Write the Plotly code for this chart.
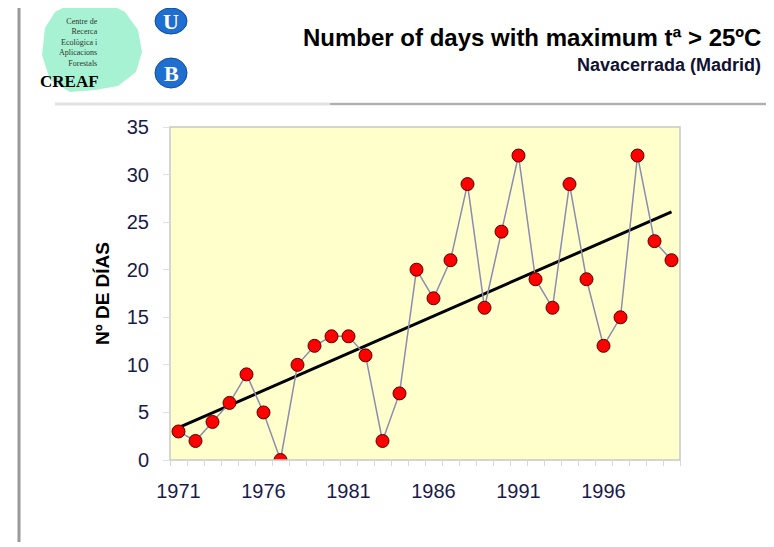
import numpy as np
import plotly.graph_objects as go

years = list(range(1971, 2001))
days = [3, 2, 4, 6, 9, 5, 0, 10, 12, 13, 13, 11, 2, 7, 20,
        17, 21, 29, 16, 24, 32, 19, 16, 29, 19, 12, 15, 32, 23, 21]
tick_years = [1971, 1976, 1981, 1986, 1991, 1996]

# the page body has an 8px margin, so work in page pixels and shift
OFF = 8
W, H = 774 - OFF, 547 - OFF
L, R, T, B = 170, 680, 127, 460   # plot area in page pixels

def px(x):
    return (x - L) / (R - L)

def py(y):
    return (B - y) / (B - T)

idx = np.arange(len(years))
slope, icpt = np.polyfit(idx, days, 1)
trend = slope * idx + icpt

fig = go.Figure()
fig.add_trace(go.Scatter(
    x=years, y=trend, mode="lines",
    line=dict(color="black", width=3), hoverinfo="skip"))
fig.add_trace(go.Scatter(
    x=years, y=days, mode="lines+markers",
    line=dict(color="#8c8cb0", width=1.5),
    marker=dict(color="#ff0000", size=13, line=dict(color="#5a0000", width=1))))

blob = [(70, 4), (105, 2), (125, 12), (138, 30), (142, 52), (136, 72), (118, 86),
        (95, 90), (70, 92), (50, 80), (42, 55), (45, 28), (55, 12)]
blob_path = "M " + " L ".join("{} {}".format(px(x), py(y)) for x, y in blob) + " Z"

shapes = [
    # left page border
    dict(type="line", xref="paper", yref="paper", x0=px(19), x1=px(19), y0=py(8), y1=py(542),
         line=dict(color="#9a9a9a", width=3), layer="below"),
    # header rule
    dict(type="line", xref="paper", yref="paper", x0=px(55), x1=px(766), y0=py(104), y1=py(104),
         line=dict(color="#e2e2e2", width=3), layer="below"),
    dict(type="line", xref="paper", yref="paper", x0=px(330), x1=px(766), y0=py(104), y1=py(104),
         line=dict(color="#b0b0b0", width=2), layer="below"),
    # CREAF green blob
    dict(type="path", xref="paper", yref="paper", path=blob_path,
         fillcolor="#a6f2d2", line=dict(width=0), layer="below"),
    # U and B circles
    dict(type="circle", xref="paper", yref="paper", x0=px(155), x1=px(187), y0=py(8), y1=py(34),
         fillcolor="#1f6fd0", line=dict(color="#0d4aa0", width=1), layer="below"),
    dict(type="circle", xref="paper", yref="paper", x0=px(155), x1=px(187), y0=py(58), y1=py(88),
         fillcolor="#1f6fd0", line=dict(color="#0d4aa0", width=1), layer="below"),
    # plot area border
    dict(type="rect", xref="paper", yref="paper", x0=0, x1=1, y0=0, y1=1,
         line=dict(color="#c8c8c8", width=1.5)),
]

annotations = [
    dict(text="<b>Number of days with maximum tª > 25ºC</b>", xref="paper", yref="paper",
         x=px(763), y=py(38), xanchor="right", yanchor="middle", showarrow=False,
         font=dict(family="Liberation Sans, Arial", size=24, color="black")),
    dict(text="<b>Navacerrada (Madrid)</b>", xref="paper", yref="paper",
         x=px(763), y=py(65), xanchor="right", yanchor="middle", showarrow=False,
         font=dict(family="Liberation Sans, Arial", size=18, color="#111133")),
    dict(text="<b>U</b>", xref="paper", yref="paper", x=px(171), y=py(21),
         xanchor="center", yanchor="middle", showarrow=False,
         font=dict(family="Liberation Serif", size=22, color="white")),
    dict(text="<b>B</b>", xref="paper", yref="paper", x=px(171), y=py(73),
         xanchor="center", yanchor="middle", showarrow=False,
         font=dict(family="Liberation Serif", size=22, color="white")),
    dict(text="Centre de<br>Recerca<br>Ecològica i<br>Aplicacions<br>Forestals", xref="paper", yref="paper",
         x=px(100), y=py(42), xanchor="right", yanchor="middle", align="right", showarrow=False,
         font=dict(family="Liberation Serif", size=8, color="#333333")),
    dict(text="<b>CREAF</b>", xref="paper", yref="paper", x=px(38), y=py(81),
         xanchor="left", yanchor="middle", showarrow=False,
         font=dict(family="Liberation Serif", size=17, color="black")),
]

fig.update_layout(
    width=W, height=H,
    margin=dict(l=L - OFF, r=W - (R - OFF), t=T - OFF, b=H - (B - OFF)),
    paper_bgcolor="white", plot_bgcolor="#ffffcc",
    showlegend=False,
    shapes=shapes, annotations=annotations,
    font=dict(family="Liberation Sans, Arial", color="#1a1a4a"),
)
fig.update_xaxes(
    range=[1970.5, 2000.5], tickmode="array", tickvals=tick_years,
    ticktext=[str(y) for y in tick_years], ticks="", showgrid=False,
    zeroline=False, tickfont=dict(size=20), ticklabelstandoff=17,
    minor=dict(tickmode="linear", tick0=1970.5, dtick=1, ticks="outside",
               ticklen=5, tickcolor="#d8d8d8", showgrid=False),
)
fig.update_yaxes(
    range=[0, 35], dtick=5, showgrid=False, zeroline=False,
    ticks="outside", ticklen=6, tickcolor="#e0e0e0",
    tickfont=dict(size=20), ticklabelstandoff=10,
    title=dict(text="<b>Nº DE DÍAS</b>", font=dict(size=19, color="black"), standoff=12),
)

fig.write_html("out.html")
